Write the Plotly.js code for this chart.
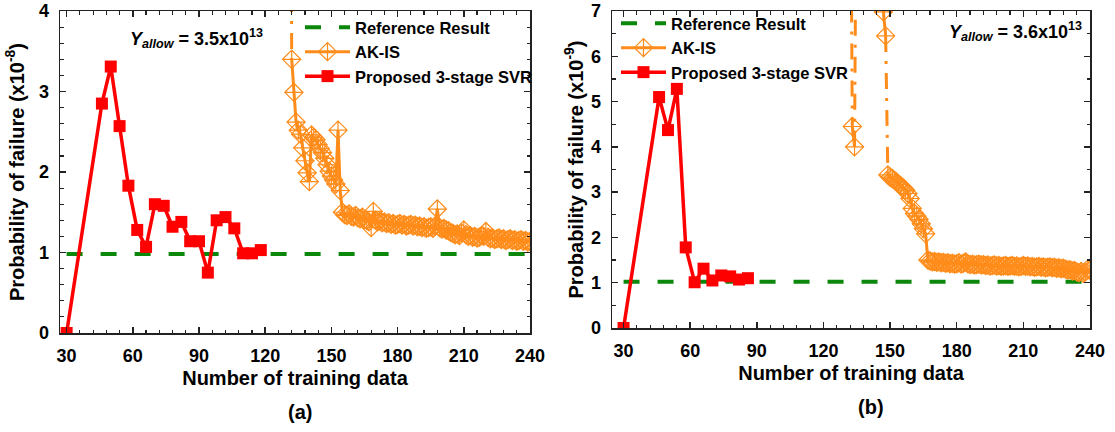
<!DOCTYPE html>
<html><head><meta charset="utf-8">
<script src="https://cdn.plot.ly/plotly-3.0.1.min.js"></script>
<style>html,body{margin:0;padding:0;background:#fff;} #chart{width:1115px;height:432px;}</style>
</head><body><div id="chart"></div>
<script>
// ---------- Panel (a) data (values in units of 1e-8) ----------
const svrX_a = [30,46,50,54,58,62,66,70,74,78,82,86,90,94,98,102,106,110,114,118];
const svrY_a = [0,2.85,3.31,2.57,1.83,1.28,1.07,1.60,1.58,1.32,1.38,1.14,1.14,0.75,1.40,1.44,1.30,0.99,0.99,1.03];
const refX_a = [30,240];
const refY_a = [0.98,0.98];
const akisX_a = [131,132,133,134,135,136,137,138,139,140,141,142,143,144,145,146,147,148,149,150,
  151,152,153,154,155,156,157,158,159,160,161,162,163,164,165,166,167,168,169,170,
  171,172,173,174,175,176,177,178,179,180,181,182,183,184,185,186,187,188,189,190,
  191,192,193,194,195,196,197,198,199,200,201,202,203,204,205,206,207,208,209,210,
  211,212,213,214,215,216,217,218,219,220,221,222,223,224,225,226,227,228,229,230,
  231,232,233,234,235,236,237,238,239,240];
const akisY_a = [12,3.40,2.99,2.62,2.52,2.47,2.30,2.14,1.99,1.88,2.46,2.43,2.40,2.34,2.29,2.24,2.17,2.09,2.01,1.95,
  1.90,1.85,2.52,1.77,1.50,1.47,1.46,1.48,1.45,1.44,1.46,1.43,1.42,1.44,1.41,1.40,1.38,1.31,1.51,1.40,
  1.38,1.39,1.37,1.38,1.36,1.37,1.35,1.36,1.34,1.35,1.36,1.34,1.35,1.33,1.34,1.35,1.33,1.34,1.32,1.33,
  1.31,1.32,1.30,1.31,1.32,1.30,1.33,1.54,1.31,1.29,1.30,1.28,1.27,1.25,1.24,1.22,1.23,1.21,1.24,1.28,
  1.22,1.20,1.21,1.19,1.20,1.18,1.19,1.21,1.20,1.26,1.19,1.17,1.18,1.16,1.17,1.18,1.16,1.17,1.15,1.16,
  1.17,1.15,1.16,1.14,1.15,1.16,1.14,1.15,1.13,1.14];

// ---------- Panel (b) data (values in units of 1e-9) ----------
const svrX_b = [30,46,50,54,58,62,66,70,74,78,82,86];
const svrY_b = [0,5.10,4.37,5.28,1.78,1.01,1.31,1.05,1.16,1.14,1.07,1.10];
const refX_b = [30,240];
const refY_b = [1.02,1.02];
const akisX_b = [132,133,134,135,146,147,148,149,150,151,152,153,154,155,156,157,158,159,160,
  161,162,163,164,165,166,167,168,169,170,171,172,173,174,175,176,177,178,179,180,
  181,182,183,184,185,186,187,188,189,190,191,192,193,194,195,196,197,198,199,200,
  201,202,203,204,205,206,207,208,209,210,211,212,213,214,215,216,217,218,219,220,
  221,222,223,224,225,226,227,228,229,230,231,232,233,234,235,236,237,238,239,240];
const akisY_b = [12,4.45,4.00,12,12,6.98,6.45,3.38,3.33,3.30,3.26,3.22,3.17,3.13,3.09,3.04,2.97,2.86,2.64,
  2.53,2.47,2.40,2.30,2.19,2.08,1.50,1.48,1.46,1.47,1.45,1.46,1.44,1.45,1.43,1.44,1.42,1.43,1.41,1.42,
  1.44,1.41,1.43,1.46,1.42,1.40,1.41,1.39,1.40,1.41,1.39,1.40,1.38,1.39,1.37,1.38,1.39,1.37,1.38,1.36,
  1.37,1.38,1.36,1.37,1.38,1.36,1.37,1.35,1.36,1.38,1.36,1.37,1.35,1.36,1.34,1.35,1.36,1.34,1.35,1.33,
  1.34,1.35,1.33,1.34,1.32,1.33,1.31,1.32,1.30,1.28,1.29,1.26,1.27,1.24,1.22,1.25,1.21,1.24,1.30,1.27];

const legendNames = ['Reference Result','AK-IS','Proposed 3-stage SVR'];
const xTicks = [30,60,90,120,150,180,210,240];

// ---------- styles ----------
const W = 1115, H = 432;
const GREEN = '#0B880B', ORANGE = '#FF8C1A', RED = '#FF0000';
const FONT = 'Liberation Sans, Arial, Helvetica, sans-serif';

function splitJumps(xs, ys, ymax, thr){
  const sx=[], sy=[], jx=[], jy=[];
  for (let i=0;i<xs.length;i++){
    sx.push(xs[i]); sy.push(ys[i]);
    if (i < xs.length-1){
      const a = ys[i], b = ys[i+1];
      if (a > ymax || b > ymax || Math.abs(b-a) > thr){
        sx.push(null); sy.push(null);
        jx.push(xs[i], xs[i+1], null); jy.push(a, b, null);
      }
    }
  }
  return {sx, sy, jx, jy};
}

function panelTraces(svrX, svrY, refX, refY, akX, akY, ymax, xa, ya, leg){
  const s = splitJumps(akX, akY, ymax, 1.0);
  return [
    {x: refX, y: refY, xaxis: xa, yaxis: ya, legend: leg, name: legendNames[0], mode: 'lines',
     line: {color: GREEN, width: 4, dash: '16px,18px'}},
    {x: s.jx, y: s.jy, xaxis: xa, yaxis: ya, legend: leg, showlegend: false, mode: 'lines',
     line: {color: ORANGE, width: 3, dash: '16px,9px,3px,9px'}, hoverinfo: 'skip'},
    {x: s.sx, y: s.sy, xaxis: xa, yaxis: ya, legend: leg, name: legendNames[1], mode: 'lines+markers',
     connectgaps: false,
     line: {color: ORANGE, width: 3},
     marker: {symbol: 'diamond-cross-open', size: 14, color: ORANGE, line: {width: 1.2, color: ORANGE}}},
    {x: svrX, y: svrY, xaxis: xa, yaxis: ya, legend: leg, name: legendNames[2], mode: 'lines+markers',
     line: {color: RED, width: 3.5},
     marker: {symbol: 'square', size: 12, color: RED}}
  ];
}

const data = [
  ...panelTraces(svrX_a, svrY_a, refX_a, refY_a, akisX_a, akisY_a, 4, 'x', 'y', 'legend'),
  ...panelTraces(svrX_b, svrY_b, refX_b, refY_b, akisX_b, akisY_b, 7, 'x2', 'y2', 'legend2')
];

function xAxis(domain, range, anchor){
  return {domain, range, anchor, tickvals: xTicks, ticks: 'inside', ticklen: 6, tickwidth: 1.5,
    tickcolor: '#222', showline: true, linewidth: 1.5, linecolor: '#222', mirror: 'allticks',
    showgrid: false, zeroline: false, ticklabelstandoff: 6, ticklabeloverflow: 'allow',
    minor: {tick0: 30, dtick: 6, ticks: 'inside', ticklen: 3.5, tickwidth: 1.2, tickcolor: '#222', showgrid: false},
    tickfont: {size: 18, family: FONT, weight: 'bold', color: '#000'},
    title: {text: 'Number of training data', font: {size: 20, family: FONT, weight: 'bold', color: '#000'}, standoff: 6}};
}
function yAxis(domain, range, anchor, minorDtick, titleText, standoff){
  return {domain, range, anchor, dtick: 1, tick0: 0, ticks: 'inside', ticklen: 6, tickwidth: 1.5,
    tickcolor: '#222', showline: true, linewidth: 1.5, linecolor: '#222', mirror: 'allticks',
    showgrid: false, zeroline: false, ticklabelstandoff: 6, ticklabeloverflow: 'allow',
    minor: {tick0: 0, dtick: minorDtick, ticks: 'inside', ticklen: 3.5, tickwidth: 1.2, tickcolor: '#222', showgrid: false},
    tickfont: {size: 18, family: FONT, weight: 'bold', color: '#000'},
    title: {text: titleText, font: {size: 20, family: FONT, weight: 'bold', color: '#000'}, standoff}};
}

const legendBase = {xanchor: 'left', yanchor: 'top', bgcolor: 'rgba(0,0,0,0)', borderwidth: 0,
  font: {size: 16.5, family: FONT, weight: 'bold', color: '#000'}, itemwidth: 45, tracegroupgap: 0,
  traceorder: 'normal'};

const annFont = {size: 18, family: FONT, weight: 'bold', color: '#000'};
const layout = {
  width: W, height: H, margin: {l: 0, r: 0, t: 0, b: 0},
  paper_bgcolor: '#fff', plot_bgcolor: '#fff', showlegend: true,
  font: {family: FONT, color: '#000'},
  xaxis: xAxis([60/W, 530/W], [27, 240], 'y'),
  yaxis: yAxis([1-333/H, 1-11/H], [0, 4], 'x', 0.2, 'Probability of failure (x10<sup>-8</sup>)', 9),
  xaxis2: xAxis([612/W, 1090/W], [24.8, 240], 'y2'),
  yaxis2: yAxis([1-328/H, 1-11/H], [0, 7], 'x2', 0.5, 'Probability of failure (x10<sup>-9</sup>)', 2),
  legend: Object.assign({}, legendBase, {x: 300/W, y: 1-10/H}),
  legend2: Object.assign({}, legendBase, {x: 616/W, y: 1-6/H}),
  annotations: [
    {xref: 'paper', yref: 'paper', x: 196/W, y: 1-38/H, xanchor: 'center', yanchor: 'middle', showarrow: false,
     text: '<i>Y</i><sub><i>allow</i></sub> = 3.5x10<sup>13</sup>', font: annFont},
    {xref: 'paper', yref: 'paper', x: 1015/W, y: 1-31/H, xanchor: 'center', yanchor: 'middle', showarrow: false,
     text: '<i>Y</i><sub><i>allow</i></sub> = 3.6x10<sup>13</sup>', font: annFont},
    {xref: 'paper', yref: 'paper', x: 300/W, y: 1-412/H, xanchor: 'center', yanchor: 'middle', showarrow: false,
     text: '(a)', font: {size: 20, family: FONT, weight: 'bold', color: '#000'}},
    {xref: 'paper', yref: 'paper', x: 871/W, y: 1-407/H, xanchor: 'center', yanchor: 'middle', showarrow: false,
     text: '(b)', font: {size: 20, family: FONT, weight: 'bold', color: '#000'}}
  ]
};

Plotly.newPlot('chart', data, layout, {displayModeBar: false, staticPlot: true});
</script>
</body></html>
